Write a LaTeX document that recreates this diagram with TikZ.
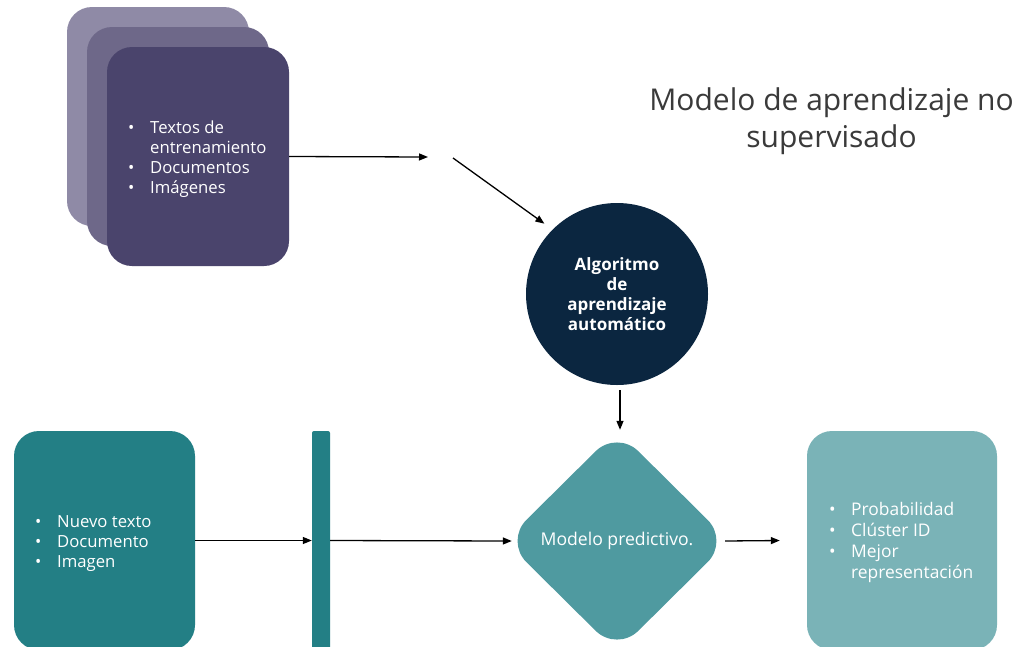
\documentclass[tikz,border=0pt]{standalone}
\usepackage{fontspec}
\setmainfont{Open Sans}
\usetikzlibrary{arrows.meta,shapes.geometric}
\definecolor{cback}{RGB}{143,138,166}
\definecolor{cmid}{RGB}{110,104,137}
\definecolor{cfront}{RGB}{74,68,108}
\definecolor{cnavy}{RGB}{11,38,64}
\definecolor{cdia}{RGB}{79,154,160}
\definecolor{cteal}{RGB}{35,127,133}
\definecolor{clight}{RGB}{122,179,183}
\definecolor{ctitle}{RGB}{58,58,58}
\newcommand{\bul}{\makebox[22pt][l]{\textbullet}}
\newcommand{\nobul}{\hspace*{22pt}}
\begin{document}
\begin{tikzpicture}[x=1pt,y=-1pt,
  card/.style={rectangle, rounded corners=25pt, minimum width=182pt, minimum height=219pt, inner sep=0pt, draw=none},
  arr/.style={-{Triangle[length=9pt,width=7pt]}, line width=1.3pt, black},
  wtxt/.style={text=white, inner sep=0pt, font=\fontsize{16.7}{20}\selectfont, align=left}
]
\useasboundingbox (0,0) rectangle (1017,646);
\clip (0,0) rectangle (1017,646);
\fill[white] (0,0) rectangle (1017,646);

% stacked cards
\node[card, fill=cback] (back) at (158,116.5) {};
\node[card, fill=cmid] (mid) at (178,136.5) {};
\node[card, fill=cfront] (front) at (198,156.5) {};
\node[wtxt, anchor=west] (fronttxt) at (128,159) {\begin{tabular}{@{}l@{}}\bul Textos de\\ \nobul entrenamiento\\ \bul Documentos\\ \bul Imágenes\end{tabular}};

% title
\node[text=ctitle, align=center, inner sep=0pt, font=\fontsize{30}{37}\selectfont] (title) at (831.5,121) {Modelo de aprendizaje no\\supervisado};

% circle
\node[circle, fill=cnavy, minimum size=182pt, inner sep=0pt, text=white, align=center, font=\bfseries\fontsize{17}{20}\selectfont] (algo) at (617,294) {Algoritmo\\de\\aprendizaje\\automático};

% diamond
\node[diamond, fill=cdia, minimum width=224pt, minimum height=222pt, inner sep=0pt, rounded corners=30pt, text=white, font=\fontsize{17.6}{20}\selectfont] (dia) at (617,541) {Modelo predictivo.};

% bottom boxes
\node[card, fill=cteal, minimum width=181pt] (left) at (104.5,540.5) {};
\node[rectangle, fill=cteal, minimum width=18pt, minimum height=219pt, inner sep=0pt, rounded corners=2pt] (bar) at (321,540.5) {};
\node[card, fill=clight, minimum width=190pt] (right) at (902,540.5) {};

\node[wtxt, anchor=west] (lefttxt) at (35,543) {\begin{tabular}{@{}l@{}}\bul Nuevo texto\\ \bul Documento\\ \bul Imagen\end{tabular}};
\node[wtxt, anchor=west, font=\fontsize{17.4}{21}\selectfont] (righttxt) at (829,542.5) {\begin{tabular}{@{}l@{}}\bul Probabilidad\\ \bul Clúster ID\\ \bul Mejor\\ \nobul representación\end{tabular}};

% connectors
\coordinate (mid1) at (428,157);
\coordinate (mid2) at (453,158);
\draw[arr] (front.east) -- (mid1);
\draw[arr, shorten >=10pt] (mid2) -- (algo.north west);
\draw[arr] ([xshift=3pt,yshift=-5pt]algo.south) -- ([xshift=3pt]dia.north);
\draw[arr] (left.east) -- (bar.west |- left.east);
\draw[arr] (bar.east |- left.east) -- ([xshift=7pt]dia.west);
\draw[arr] ([xshift=-4pt]dia.east) -- ([xshift=-27pt]right.west);
\end{tikzpicture}
\end{document}
